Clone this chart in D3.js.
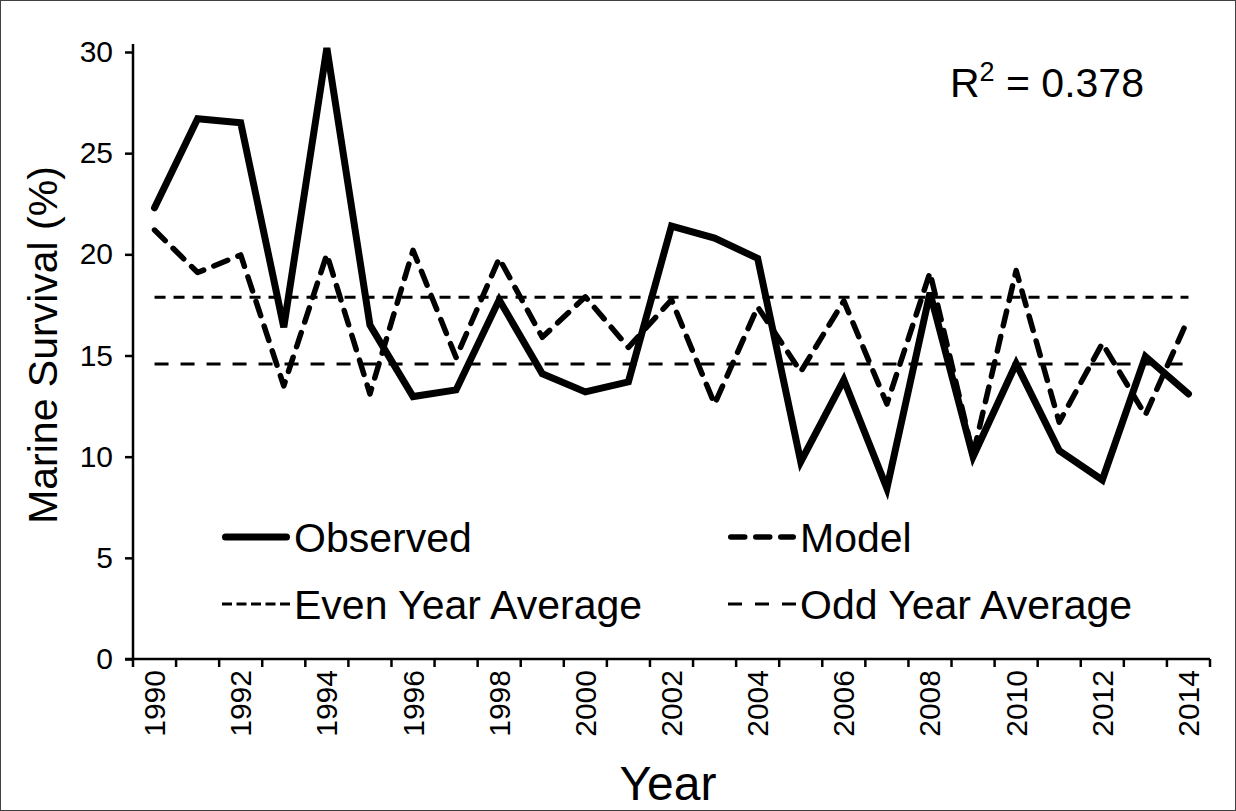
<!DOCTYPE html>
<html>
<head>
<meta charset="utf-8">
<script src="https://cdn.jsdelivr.net/npm/d3@7"></script>
<style>
  html, body { margin: 0; padding: 0; background: #fff; }
  svg { display: block; font-family: "Liberation Sans", Arial, sans-serif; }
</style>
</head>
<body>
<svg id="chart" width="1236" height="811"></svg>
<script>
// Survival by ocean-entry year
const years = d3.range(1990, 2015);
const observed = [22.3, 26.7, 26.5, 16.4, 30.2, 16.5, 12.97, 13.3, 17.75, 14.1,
                  13.2, 13.7, 21.4, 20.8, 19.8, 9.75, 13.8, 8.44, 18.1, 10.0,
                  14.6, 10.3, 8.85, 14.95, 13.1];
const model = [21.2, 19.1, 19.97, 13.5, 20.0, 13.1, 20.2, 14.9, 19.8, 15.9,
               17.9, 15.4, 17.75, 12.6, 17.4, 14.2, 17.7, 12.6, 19.1, 10.1,
               19.2, 11.7, 15.6, 12.06, 16.84];
const evenYearAverage = 17.88;
const oddYearAverage = 14.58;
const yTicks = [0, 5, 10, 15, 20, 25, 30];
const xLabelYears = years.filter(y => y % 2 === 0);
const rSquared = "0.378";

const svg = d3.select("#chart");
const W = 1236, H = 811;

// outer frame
svg.append("rect").attr("x", 0.5).attr("y", 0.5).attr("width", W - 1).attr("height", H - 1)
  .attr("fill", "#fff").attr("stroke", "#404040").attr("stroke-width", 1);

const x = d3.scaleBand().domain(years).range([133, 1210]).padding(0);
const y = d3.scaleLinear().domain([0, 30]).range([659, 52]);
const cx = yr => x(yr) + x.bandwidth() / 2;

// y axis
const yAxis = d3.axisLeft(y).tickValues(yTicks).tickSize(8).tickPadding(12);
const gy = svg.append("g").attr("transform", `translate(${x.range()[0]},0)`).call(yAxis);
gy.select(".domain").attr("stroke", "#000").attr("stroke-width", 2.5)
  .attr("d", `M0,${y(30) - 8}V${y(0)}`);
gy.selectAll(".tick line").attr("stroke", "#000").attr("stroke-width", 2.5);
gy.selectAll(".tick text").attr("font-size", 30).attr("fill", "#000")
  .attr("font-family", "Liberation Sans, Arial, sans-serif");

// x axis: ticks between categories, labels every other year
const gx = svg.append("g").attr("transform", `translate(0,${y(0)})`);
gx.append("line").attr("x1", x.range()[0] - 8).attr("x2", x.range()[1])
  .attr("stroke", "#000").attr("stroke-width", 2.5);
const boundaries = years.map(yr => x(yr)).concat([x.range()[1]]);
gx.selectAll("line.tk").data(boundaries).join("line").attr("class", "tk")
  .attr("x1", d => d).attr("x2", d => d).attr("y1", 0).attr("y2", 8)
  .attr("stroke", "#000").attr("stroke-width", 2.5);
gx.selectAll("text").data(xLabelYears).join("text")
  .attr("transform", d => `translate(${cx(d)},11) rotate(-90)`)
  .attr("text-anchor", "end").attr("dy", "0.35em")
  .attr("font-size", 30).attr("fill", "#000").text(d => d);

// axis titles
svg.append("text").attr("x", 668).attr("y", 800).attr("text-anchor", "middle")
  .attr("font-size", 48).text("Year");
svg.append("text").attr("transform", "translate(57,345) rotate(-90)")
  .attr("text-anchor", "middle").attr("font-size", 41).text("Marine Survival (%)");

// series
const line = d3.line().x((d, i) => cx(years[i])).y(d => y(d));
const styles = {
  observed: { w: 7, dash: null, cap: "round" },
  model: { w: 5.5, dash: "15,11", cap: "round" },
  even: { w: 3, dash: "11,8", cap: "butt" },
  odd: { w: 3, dash: "14,12", cap: "butt" }
};

function hline(v, st) {
  svg.append("line").attr("x1", cx(years[0])).attr("x2", cx(years[years.length - 1]))
    .attr("y1", y(v)).attr("y2", y(v))
    .attr("stroke", "#000").attr("stroke-width", st.w)
    .attr("stroke-dasharray", st.dash).attr("stroke-linecap", st.cap);
}
hline(evenYearAverage, styles.even);
hline(oddYearAverage, styles.odd);

svg.append("path").datum(model).attr("d", line).attr("fill", "none")
  .attr("stroke", "#000").attr("stroke-width", styles.model.w)
  .attr("stroke-dasharray", styles.model.dash).attr("stroke-linecap", "round")
  .attr("stroke-linejoin", "round");
svg.append("path").datum(observed).attr("d", line).attr("fill", "none")
  .attr("stroke", "#000").attr("stroke-width", styles.observed.w)
  .attr("stroke-linecap", "round").attr("stroke-linejoin", "miter");

// legend
const legendItems = [
  { label: "Observed", st: styles.observed, x: 222, y: 537 },
  { label: "Model", st: { w: 5.5, dash: "14,11", cap: "round" }, x: 728, y: 537 },
  { label: "Even Year Average", st: { w: 3, dash: "10,4.5", cap: "butt" }, x: 222, y: 604 },
  { label: "Odd Year Average", st: { w: 3, dash: "14,13", cap: "butt" }, x: 728, y: 604 }
];
const lg = svg.append("g").selectAll("g").data(legendItems).join("g");
lg.append("line")
  .attr("x1", d => d.x + (d.st.cap === "round" ? d.st.w / 2 : 0))
  .attr("x2", d => d.x + 68 - (d.st.cap === "round" ? d.st.w / 2 : 0))
  .attr("y1", d => d.y).attr("y2", d => d.y)
  .attr("stroke", "#000").attr("stroke-width", d => d.st.w)
  .attr("stroke-dasharray", d => d.st.dash).attr("stroke-linecap", d => d.st.cap);
lg.append("text").attr("x", d => d.x + 72).attr("y", d => d.y).attr("dy", "0.36em")
  .attr("font-size", 41).attr("fill", "#000").text(d => d.label);

// R squared annotation
const rt = svg.append("text").attr("x", 950).attr("y", 97).attr("font-size", 41).attr("fill", "#000");
rt.append("tspan").text("R");
rt.append("tspan").attr("font-size", 27).attr("dy", -16).text("2");
rt.append("tspan").attr("dy", 16).text(" = " + rSquared);
</script>
</body>
</html>
